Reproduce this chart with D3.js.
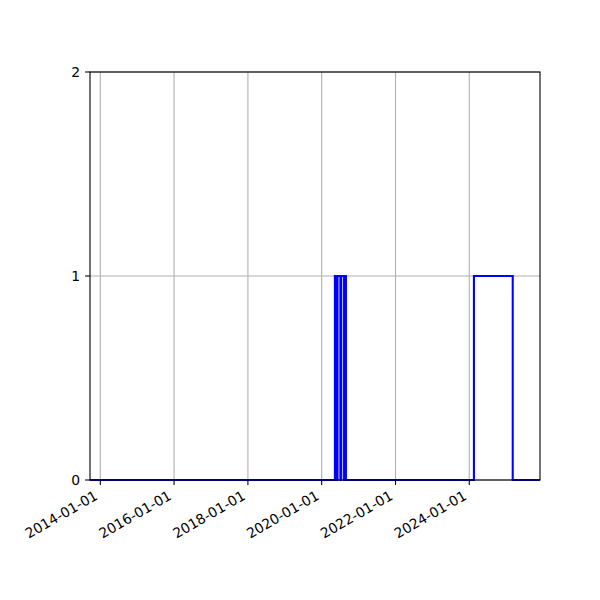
<!DOCTYPE html>
<html>
<head>
<meta charset="utf-8">
<script src="https://cdn.jsdelivr.net/npm/d3@7"></script>
<style>
  html, body { margin: 0; padding: 0; background: #fff; }
  svg { display: block; font-family: "DejaVu Sans", sans-serif; }
</style>
</head>
<body>
<svg id="chart" width="600" height="600"></svg>
<script>
// ---- data (step-after: value holds from its date until the next date) ----
const stepDates = [
  "2013-09-21",
  "2020-05-11", "2020-05-15", "2020-05-18", "2020-05-22", "2020-05-25",
  "2020-05-29", "2020-06-01", "2020-06-04", "2020-06-06",
  "2020-07-04", "2020-07-07", "2020-07-10", "2020-07-13",
  "2020-08-10", "2020-08-13", "2020-08-17", "2020-08-20", "2020-08-24",
  "2020-08-26", "2020-08-28",
  "2024-02-16", "2025-03-06",
  "2025-12-01"
];
const stepValues = [
  0,
  1, 0, 1, 0, 1,
  0, 1, 0, 1,
  0, 1, 0, 1,
  0, 1, 0, 1, 0,
  1, 0,
  1, 0,
  0
];
const xDomain = ["2013-09-21", "2025-12-01"];
const xTickDates = ["2014-01-01", "2016-01-01", "2018-01-01", "2020-01-01", "2022-01-01", "2024-01-01"];
const yTicks = [0, 1, 2];
const yDomain = [0, 2];

// ---- layout ----
const svg = d3.select("#chart");
const mLeft = 90, mRight = 540, mTop = 72, mBottom = 480;
const parse = d3.utcParse("%Y-%m-%d");
const fmt = d3.utcFormat("%Y-%m-%d");

const x = d3.scaleUtc().domain(xDomain.map(parse)).range([mLeft, mRight]);
const y = d3.scaleLinear().domain(yDomain).range([mBottom, mTop]);

const data = stepDates.map((d, i) => ({ date: parse(d), value: stepValues[i] }));
const xTicks = xTickDates.map(parse);

// grid
const grid = svg.append("g");
grid.selectAll("line.gx").data(xTicks).join("line")
  .attr("class", "gx")
  .attr("x1", d => x(d)).attr("x2", d => x(d))
  .attr("y1", mTop).attr("y2", mBottom)
  .attr("stroke", "#b0b0b0").attr("stroke-width", 1.1);
grid.selectAll("line.gy").data(yTicks).join("line")
  .attr("class", "gy")
  .attr("x1", mLeft).attr("x2", mRight)
  .attr("y1", d => y(d)).attr("y2", d => y(d))
  .attr("stroke", "#b0b0b0").attr("stroke-width", 1.1);

// step line
const line = d3.line()
  .x(d => x(d.date))
  .y(d => y(d.value))
  .curve(d3.curveStepAfter);
svg.append("path")
  .datum(data)
  .attr("d", line)
  .attr("fill", "none")
  .attr("stroke", "#0000ff")
  .attr("stroke-width", 2.08)
  .attr("stroke-linejoin", "miter");

// spines
svg.append("rect")
  .attr("x", mLeft).attr("y", mTop)
  .attr("width", mRight - mLeft).attr("height", mBottom - mTop)
  .attr("fill", "none").attr("stroke", "#000").attr("stroke-width", 1.1);

// x axis ticks + labels
const xa = svg.append("g");
xa.selectAll("line").data(xTicks).join("line")
  .attr("x1", d => x(d)).attr("x2", d => x(d))
  .attr("y1", mBottom).attr("y2", mBottom + 4.9)
  .attr("stroke", "#000").attr("stroke-width", 1.1);
xa.selectAll("text").data(xTicks).join("text")
  .attr("transform", d => `translate(${x(d) - 1.6},${mBottom + 18.5}) rotate(-30)`)
  .attr("text-anchor", "end")
  .attr("font-size", "13.9px")
  .attr("fill", "#000")
  .text(d => fmt(d));

// y axis ticks + labels
const ya = svg.append("g");
ya.selectAll("line").data(yTicks).join("line")
  .attr("x1", mLeft - 4.9).attr("x2", mLeft)
  .attr("y1", d => y(d)).attr("y2", d => y(d))
  .attr("stroke", "#000").attr("stroke-width", 1.1);
ya.selectAll("text").data(yTicks).join("text")
  .attr("x", mLeft - 4.9 - 4.9)
  .attr("y", d => y(d))
  .attr("dy", "0.36em")
  .attr("text-anchor", "end")
  .attr("font-size", "13.9px")
  .attr("fill", "#000")
  .text(d => d);
</script>
</body>
</html>
